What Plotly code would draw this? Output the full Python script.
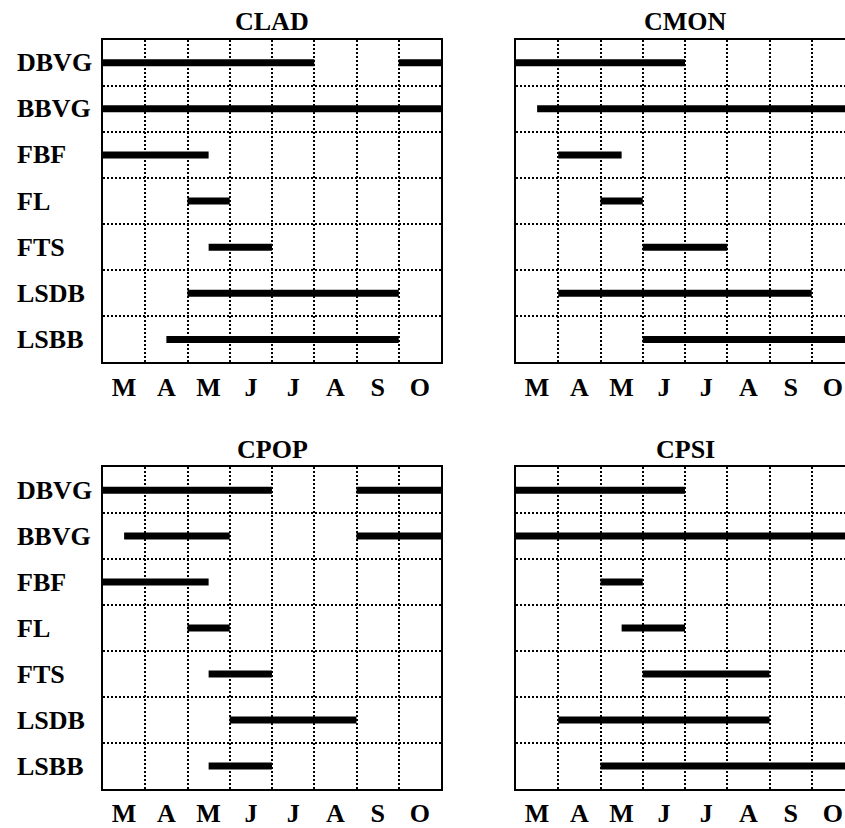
import plotly.graph_objects as go

# ---------------- data ----------------
CATEGORIES = ["DBVG", "BBVG", "FBF", "FL", "FTS", "LSDB", "LSBB"]
MONTHS = ["M", "A", "M", "J", "J", "A", "S", "O"]
PANEL_NAMES = ["CLAD", "CMON", "CPOP", "CPSI"]

# spans in months from start of March (0) to end of October (8), one list per category
CLAD_SPANS = [[(0, 5), (7, 8)], [(0, 8)], [(0, 2.5)], [(2, 3)], [(2.5, 4)], [(2, 7)], [(1.5, 7)]]
CMON_SPANS = [[(0, 4)], [(0.5, 8)], [(1, 2.5)], [(2, 3)], [(3, 5)], [(1, 7)], [(3, 8)]]
CPOP_SPANS = [[(0, 4), (6, 8)], [(0.5, 3), (6, 8)], [(0, 2.5)], [(2, 3)], [(2.5, 4)], [(3, 6)], [(2.5, 4)]]
CPSI_SPANS = [[(0, 4)], [(0, 8)], [(2, 3)], [(2.5, 4)], [(3, 6)], [(1, 6)], [(2, 8)]]

PANEL_SPANS = [CLAD_SPANS, CMON_SPANS, CPOP_SPANS, CPSI_SPANS]

# ---------------- layout constants ----------------
W, H = 845, 828
FONT = "Liberation Serif"
FS = 26
LEFT_X = (103, 441)
RIGHT_X0 = 516
PX_PER_MONTH = (LEFT_X[1] - LEFT_X[0]) / len(MONTHS)
TOP_Y = (40, 366)
BOT_Y = (471.7, 796.7)

def xdom(left):
    if left:
        return [LEFT_X[0] / W, LEFT_X[1] / W], [0, len(MONTHS)]
    return [RIGHT_X0 / W, 1.0], [0, (W - RIGHT_X0) / PX_PER_MONTH]

def ydom(top):
    a, b = TOP_Y if top else BOT_Y
    return [1 - b / H, 1 - a / H]

fig = go.Figure()
layout = dict(width=W, height=H, margin=dict(l=0, r=0, t=0, b=0),
              paper_bgcolor="white", plot_bgcolor="white", showlegend=False,
              font=dict(family=FONT, size=FS, color="black"))
annotations = []

for i, (name, spans) in enumerate(zip(PANEL_NAMES, PANEL_SPANS)):
    left = i % 2 == 0
    top = i < 2
    xs, ys = [], []
    for row, segs in enumerate(spans):
        for a, b in segs:
            xs += [a, b, None]
            ys += [row, row, None]
    sfx = "" if i == 0 else str(i + 1)
    fig.add_trace(go.Scatter(x=xs, y=ys, mode="lines",
                             line=dict(color="black", width=7),
                             xaxis="x" + sfx, yaxis="y" + sfx,
                             hoverinfo="skip", showlegend=False))
    xd, xr = xdom(left)
    yd = ydom(top)
    layout["xaxis" + sfx] = dict(
        domain=xd, range=xr, anchor="y" + sfx,
        tickmode="array", tickvals=[k + 0.5 for k in range(len(MONTHS))], ticktext=MONTHS,
        tickfont=dict(family=FONT, size=FS, color="black", weight="bold"),
        ticks="", showgrid=False, zeroline=False,
        showline=True, mirror=True, linecolor="black", linewidth=2,
        minor=dict(tickvals=list(range(1, len(MONTHS))), showgrid=True,
                   gridcolor="black", gridwidth=1.5, griddash="2px,2px", ticks=""),
        fixedrange=True)
    layout["yaxis" + sfx] = dict(
        domain=yd, range=[len(CATEGORIES) - 0.5, -0.5], anchor="x" + sfx,
        tickmode="array", tickvals=list(range(len(CATEGORIES))), showticklabels=False,
        ticks="", showgrid=False, zeroline=False,
        showline=True, mirror=left, linecolor="black", linewidth=2,
        minor=dict(tickvals=[k + 0.5 for k in range(len(CATEGORIES) - 1)], showgrid=True,
                   gridcolor="black", gridwidth=1.5, griddash="2px,2px", ticks=""),
        fixedrange=True)
    # panel title
    cx = (LEFT_X[0] + LEFT_X[1]) / 2 if left else RIGHT_X0 + (LEFT_X[1] - LEFT_X[0]) / 2
    ty = (TOP_Y[0] if top else BOT_Y[0]) - 18
    annotations.append(dict(text=name, x=cx / W, y=1 - ty / H, xref="paper", yref="paper",
                            xanchor="center", yanchor="middle", showarrow=False,
                            font=dict(family=FONT, size=FS, color="black", weight="bold")))
    if left:
        for row, cat in enumerate(CATEGORIES):
            annotations.append(dict(text=cat, x=15 / W, y=row, xref="paper", yref="y" + sfx,
                                    xanchor="left", yanchor="middle", showarrow=False,
                                    font=dict(family=FONT, size=FS, color="black", weight="bold")))

layout["annotations"] = annotations
fig.update_layout(**layout)
fig.write_html("out.html")
